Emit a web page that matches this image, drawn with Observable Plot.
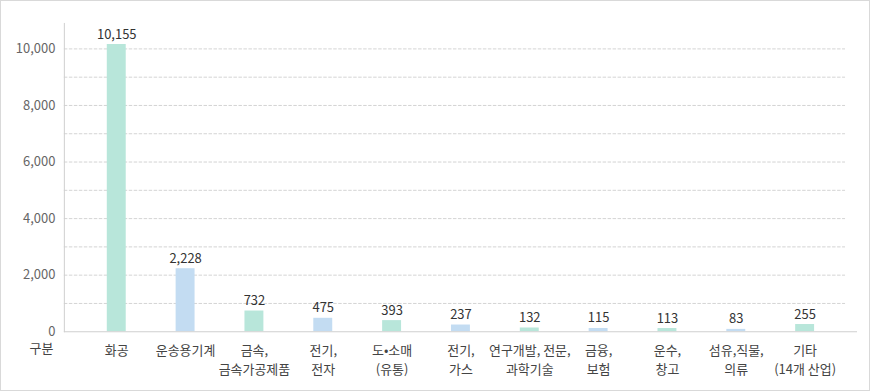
<!DOCTYPE html>
<html><head><meta charset="utf-8">
<script src="https://cdn.jsdelivr.net/npm/d3@7"></script>
<script src="https://cdn.jsdelivr.net/npm/@observablehq/plot@0.6"></script>
<style>
html,body{margin:0;padding:0;background:#fff;}
#wrap{position:relative;width:870px;height:391px;box-sizing:border-box;border:1px solid #d9d9d9;overflow:hidden;}
#wrap svg{position:absolute;left:-1px;top:-1px;}
</style></head>
<body><div id="wrap"></div>
<script>
const categories = ["화공","운송용기계","금속,\n금속가공제품","전기,\n전자","도•소매\n(유통)","전기,\n가스","연구개발, 전문,\n과학기술","금융,\n보험","운수,\n창고","섬유,직물,\n의류","기타\n(14개 산업)"];
const values = [10155,2228,732,475,393,237,132,115,113,83,255];
const valueLabels = ["10,155","2,228","732","475","393","237","132","115","113","83","255"];
const yTicks = [0,2000,4000,6000,8000,10000];
const gridTicks = [1000,2000,3000,4000,5000,6000,7000,8000,9000,10000];
const colors = ["#b8e6da","#c3dcf2"];
const xLabel = "구분";

const data = categories.map((c,i)=>({cat:c, value:values[i], label:valueLabels[i], color:colors[i%2]}));
const font = "'Noto Sans CJK KR', 'Noto Sans', sans-serif";

const chart = Plot.plot({
  width: 870, height: 391,
  marginLeft: 64, marginRight: 11, marginTop: 23, marginBottom: 59,
  style: {fontFamily: font, fontSize: "13px", background: "transparent"},
  x: {domain: categories, paddingInner: 0.725, paddingOuter: 0.6236, round: false, label: null},
  y: {domain: [0, 10900], label: null},
  marks: [
    Plot.ruleY(gridTicks, {stroke: "#d4d4d4", strokeDasharray: "3.5,1.5", insetRight: 12}),
    Plot.barY(data, {x: "cat", y: "value", fill: "color"}),
    Plot.ruleY([0], {stroke: "#cfcfcf", strokeWidth: 1.2}),
    Plot.frame({anchor: "left", stroke: "#cfcfcf"}),
    Plot.text(data, {x: "cat", y: "value", text: "label", lineAnchor: "bottom", dy: -6, fill: "#333", fontSize: 13}),
    Plot.axisY({ticks: yTicks, tickSize: 0, tickPadding: 9, tickFormat: d3.format(","), fill: "#666", fontSize: 13}),
    Plot.axisX({tickSize: 0, tickPadding: 9, lineHeight: 1.5, fill: "#444", fontSize: 13, tickFormat: d => d}),
    Plot.text([xLabel], {frameAnchor: "bottom-left", dx: -23, dy: 17, textAnchor: "middle", lineAnchor: "middle", fill: "#444", fontSize: 13})
  ]
});
document.getElementById("wrap").appendChild(chart);
</script></body></html>
